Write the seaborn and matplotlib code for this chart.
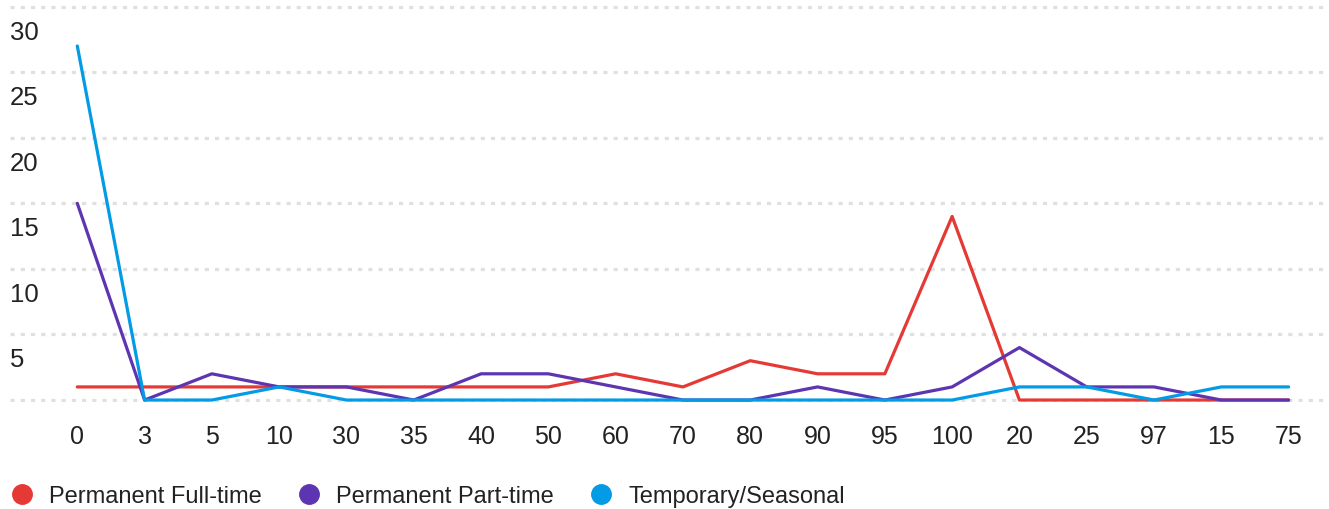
"""
Line chart of employee type counts by percentage category
"""

import matplotlib
matplotlib.use("Agg")
import matplotlib.pyplot as plt
from matplotlib.lines import Line2D
import seaborn as sns
import pandas as pd

# chart data
categories = ["0", "3", "5", "10", "30", "35", "40", "50", "60", "70",
              "80", "90", "95", "100", "20", "25", "97", "15", "75"]
full_time = [1, 1, 1, 1, 1, 1, 1, 1, 2, 1, 3, 2, 2, 14, 0, 0, 0, 0, 0]
part_time = [15, 0, 2, 1, 1, 0, 2, 2, 1, 0, 0, 1, 0, 1, 4, 1, 1, 0, 0]
temporary = [27, 0, 0, 1, 0, 0, 0, 0, 0, 0, 0, 0, 0, 0, 1, 1, 0, 1, 1]
series_names = ["Permanent Full-time", "Permanent Part-time", "Temporary/Seasonal"]
colors = ["#E53935", "#5E35B1", "#039BE5"]
y_ticks = [0, 5, 10, 15, 20, 25, 30]

# long-form table for seaborn
df = pd.DataFrame({
    "category": categories * 3,
    "value": full_time + part_time + temporary,
    "series": [s for s in series_names for _ in categories],
})
df["category"] = pd.Categorical(df["category"], categories=categories, ordered=True)

sns.set_style("white")
plt.rcParams["font.family"] = ["Liberation Sans", "DejaVu Sans"]

W, H = 1329, 510
fig = plt.figure(figsize=(W / 100, H / 100), dpi=100)
ax = fig.add_axes([10 / W, (H - 403) / H, 1319 / W, 398 / H])

sns.lineplot(data=df, x="category", y="value", hue="series",
             hue_order=series_names, palette=colors, linewidth=2.3,
             legend=False, ax=ax, sort=False)

ax.set_xlim(-1, 18.6)
ax.set_ylim(-0.15, 30.2)
ax.set_yticks(y_ticks)
ax.set_yticklabels([])
ax.yaxis.grid(True, color="#e0e0e0", linewidth=2.3, linestyle=(0, (1.3, 1.9)))
ax.set_axisbelow(True)
ax.tick_params(axis="x", length=0, pad=16, labelsize=18, labelcolor="#222222")
ax.tick_params(axis="y", length=0)
ax.set_xlabel("")
ax.set_ylabel("")
for side in ["top", "right", "left", "bottom"]:
    ax.spines[side].set_visible(False)

# y labels sit below their gridlines
for v in y_ticks[1:]:
    ax.annotate(str(v), xy=(0, v), xycoords=("axes fraction", "data"),
                xytext=(0, -18), textcoords="offset points",
                ha="left", va="center", fontsize=18.5, color="#222222")

handles = [Line2D([0], [0], marker="o", linestyle="none", markersize=14,
                  markerfacecolor=c, markeredgecolor=c) for c in colors]
fig.legend(handles, series_names, loc="center left",
           bbox_to_anchor=(10 / W, 1 - 497 / H), ncol=3, frameon=False,
           fontsize=17, handlelength=1.0, handletextpad=0.65, columnspacing=1.5,
           labelcolor="#222222", borderaxespad=0, borderpad=0)

fig.savefig("out.png", dpi=100)
